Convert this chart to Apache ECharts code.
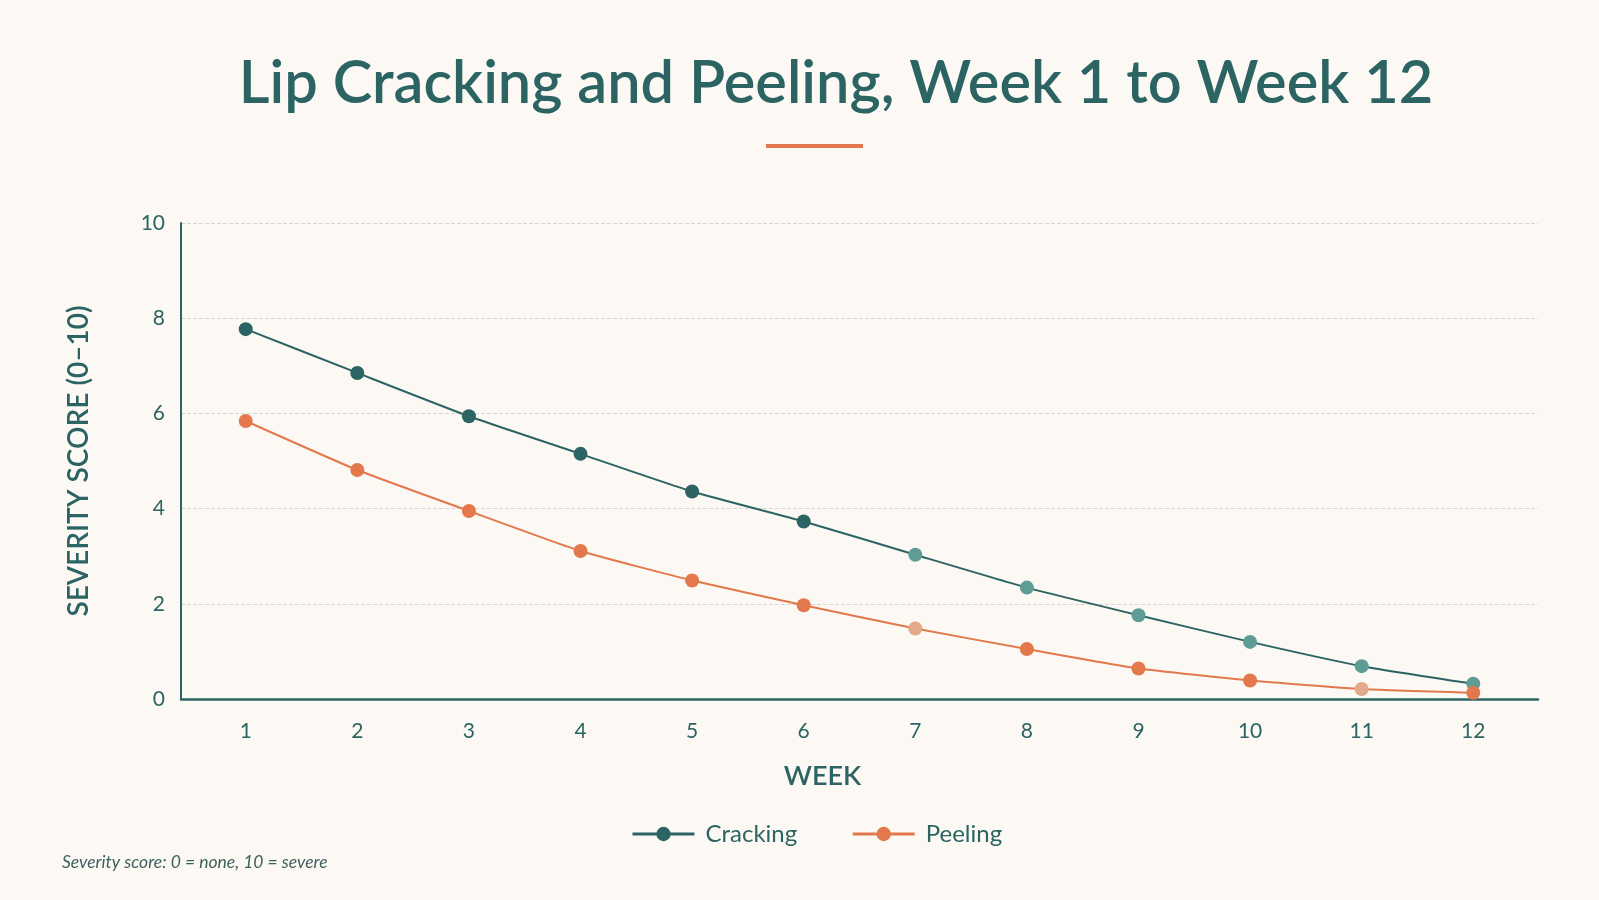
<!DOCTYPE html>
<html lang="en">
<head>
<meta charset="UTF-8">
<title>Lip Cracking and Peeling</title>
<script src="https://cdn.jsdelivr.net/npm/echarts@6/dist/echarts.min.js"></script>
<style>
  html, body { margin: 0; padding: 0; background: #fcf9f4; }
  #main { width: 1599px; height: 900px; }
</style>
</head>
<body>
<div id="main"></div>
<script>
  // data
  var weeks = [1, 2, 3, 4, 5, 6, 7, 8, 9, 10, 11, 12];
  var cracking = [7.77, 6.85, 5.94, 5.15, 4.36, 3.73, 3.03, 2.34, 1.76, 1.2, 0.69, 0.32];
  var peeling = [5.84, 4.81, 3.95, 3.11, 2.49, 1.97, 1.48, 1.05, 0.64, 0.39, 0.21, 0.13];
  var yTicks = [0, 2, 4, 6, 8, 10];

  var teal = '#2b6462';
  var orange = '#e2784c';
  var font = 'Lato, "Open Sans", sans-serif';

  // some markers in the picture are washed out
  var crackFaded = [6, 7, 8, 9, 10, 11];
  var peelFaded = [6, 10];

  function pairs(vals) {
    var res = [];
    for (var i = 0; i < vals.length; i++) {
      res.push([weeks[i], vals[i]]);
    }
    return res;
  }

  var chart = echarts.init(document.getElementById('main'));

  chart.setOption({
    backgroundColor: '#fcf9f4',
    color: [teal, orange],
    textStyle: { fontFamily: font },
    title: [{
      text: 'Lip Cracking and Peeling, Week 1 to Week 12',
      left: 831, top: 49, textAlign: 'center',
      textStyle: { fontFamily: font, fontSize: 59.5, fontWeight: 600, color: teal }
    }, {
      text: 'Severity score: 0 = none, 10 = severe',
      left: 57, top: 848,
      textStyle: { fontFamily: font, fontSize: 17.5, fontStyle: 'italic', fontWeight: 'normal', color: '#3d5f5e' }
    }],
    graphic: [{
      type: 'rect',
      shape: { x: 766, y: 144, width: 97, height: 4 },
      style: { fill: orange }
    }],
    legend: {
      data: [
        { name: 'Cracking', itemStyle: { color: teal } },
        { name: 'Peeling', itemStyle: { color: orange } }
      ],
      left: 626, top: 817,
      itemWidth: 62, itemHeight: 18, itemGap: 54,
      lineStyle: { width: 3 },
      textStyle: { fontFamily: font, fontSize: 24, color: teal, padding: [0, 0, 0, 6] }
    },
    grid: { left: 181, right: 61, top: 223, bottom: 201 },
    xAxis: {
      type: 'value',
      min: 0.42, max: 12.58,
      name: 'WEEK', nameLocation: 'middle', nameGap: 64,
      nameTextStyle: { fontFamily: font, fontSize: 27, fontWeight: 600, color: teal, padding: [0, 74, 0, 0] },
      axisLine: { lineStyle: { color: teal, width: 2.5 } },
      axisTick: { show: false },
      splitLine: { show: false },
      axisLabel: { customValues: weeks, margin: 22, fontSize: 21, color: teal, fontFamily: font }
    },
    yAxis: {
      type: 'value',
      min: 0, max: 10, interval: 2,
      name: 'SEVERITY SCORE (0–10)', nameLocation: 'middle', nameGap: 88,
      nameTextStyle: { fontFamily: font, fontSize: 28, fontWeight: 600, color: teal },
      axisLine: { show: true, lineStyle: { color: teal, width: 2 } },
      axisTick: { show: false },
      axisLabel: { customValues: yTicks, margin: 16, fontSize: 21, color: teal, fontFamily: font },
      splitLine: { lineStyle: { color: '#d8d6d1', type: 'dashed', width: 1 } }
    },
    series: [{
      name: 'Cracking',
      type: 'line',
      data: pairs(cracking),
      smooth: 0.15,
      symbol: 'circle', symbolSize: 14,
      lineStyle: { color: teal, width: 2 },
      itemStyle: {
        color: function (p) {
          return crackFaded.indexOf(p.dataIndex) >= 0 ? '#5f9c96' : teal;
        }
      },
      emphasis: { disabled: true },
      z: 3
    }, {
      name: 'Peeling',
      type: 'line',
      data: pairs(peeling),
      smooth: 0.15,
      symbol: 'circle', symbolSize: 14,
      lineStyle: { color: orange, width: 2 },
      itemStyle: {
        color: function (p) {
          return peelFaded.indexOf(p.dataIndex) >= 0 ? '#e2a98a' : orange;
        }
      },
      emphasis: { disabled: true },
      z: 4
    }]
  });
</script>
</body>
</html>
